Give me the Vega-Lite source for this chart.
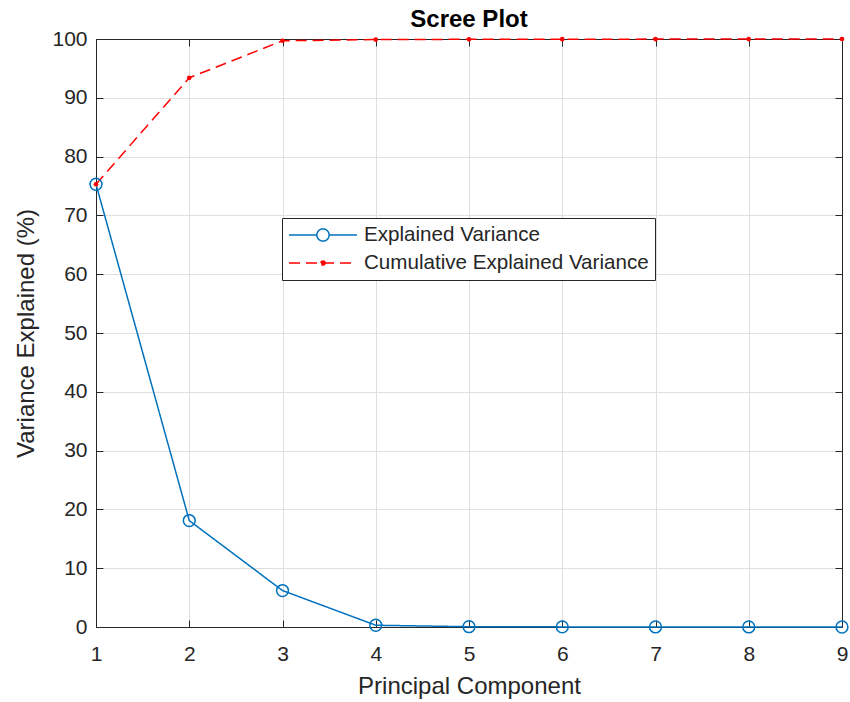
{
  "$schema": "https://vega.github.io/schema/vega-lite/v6.json",
  "width": 746,
  "height": 588,
  "autosize": {"type": "none"},
  "padding": {"left": 96, "top": 39, "right": 8, "bottom": 75},
  "background": "white",
  "title": {"text": "Scree Plot", "fontSize": 24, "fontWeight": "bold", "font": "Liberation Sans", "color": "#000000", "anchor": "middle", "frame": "group", "baseline": "alphabetic", "offset": 2, "dy": 25},
  "config": {
    "view": {"stroke": null},
    "axis": {"labelFont": "Liberation Sans", "titleFont": "Liberation Sans", "labelColor": "#262626", "titleColor": "#262626", "domainColor": "#262626", "tickColor": "#262626", "gridColor": "#dfdfdf", "gridOpacity": 1, "labelFontSize": 21, "titleFontSize": 24, "titleFontWeight": "normal", "tickSize": -7, "domainWidth": 1, "tickWidth": 1, "labelFlush": false}
  },
  "data": {"values": [
    {"pc": 1, "value": 75.3, "series": "Explained Variance"},
    {"pc": 2, "value": 18.1, "series": "Explained Variance"},
    {"pc": 3, "value": 6.2, "series": "Explained Variance"},
    {"pc": 4, "value": 0.3, "series": "Explained Variance"},
    {"pc": 5, "value": 0.05, "series": "Explained Variance"},
    {"pc": 6, "value": 0.02, "series": "Explained Variance"},
    {"pc": 7, "value": 0.01, "series": "Explained Variance"},
    {"pc": 8, "value": 0.01, "series": "Explained Variance"},
    {"pc": 9, "value": 0.0, "series": "Explained Variance"},
    {"pc": 1, "value": 75.3, "series": "Cumulative Explained Variance"},
    {"pc": 2, "value": 93.4, "series": "Cumulative Explained Variance"},
    {"pc": 3, "value": 99.7, "series": "Cumulative Explained Variance"},
    {"pc": 4, "value": 99.9, "series": "Cumulative Explained Variance"},
    {"pc": 5, "value": 99.95, "series": "Cumulative Explained Variance"},
    {"pc": 6, "value": 99.97, "series": "Cumulative Explained Variance"},
    {"pc": 7, "value": 99.98, "series": "Cumulative Explained Variance"},
    {"pc": 8, "value": 99.99, "series": "Cumulative Explained Variance"},
    {"pc": 9, "value": 100.0, "series": "Cumulative Explained Variance"}
  ]},
  "resolve": {"axis": {"x": "independent", "y": "independent"}},
  "layer": [
    {
      "mark": {"type": "line", "strokeWidth": 1.5},
      "encoding": {
        "x": {"field": "pc", "type": "quantitative", "scale": {"domain": [1, 9], "nice": false, "zero": false},
              "axis": {"orient": "bottom", "title": "Principal Component", "values": [1,2,3,4,5,6,7,8,9], "grid": true, "labelPadding": 23, "titlePadding": 10, "format": "d", "labelFlush": false}},
        "y": {"field": "value", "type": "quantitative", "scale": {"domain": [0, 100], "nice": false},
              "axis": {"orient": "left", "title": "Variance Explained (%)", "values": [0,10,20,30,40,50,60,70,80,90,100], "grid": true, "labelPadding": 16, "titlePadding": 13, "labelFlush": false}},
        "color": {"field": "series", "type": "nominal",
                  "scale": {"domain": ["Explained Variance", "Cumulative Explained Variance"], "range": ["#0072BD", "#FF0000"]},
                  "legend": {"orient": "none", "legendX": 186, "legendY": 179, "title": null, "labelFont": "Liberation Sans", "labelFontSize": 20.6, "labelColor": "#262626", "labelLimit": 0, "symbolSize": 4624, "symbolStrokeWidth": 1.5, "labelOffset": 6, "padding": 6, "rowPadding": 6, "clipHeight": 22, "strokeColor": "#262626", "fillColor": "#ffffff", "cornerRadius": 0,
                             "encode": {"symbols": {"update": {
                               "shape": {"signal": "datum.value == 'Explained Variance' ? 'M-1,0H-0.18M0.18,0H1M-0.18,0A0.18,0.18,0,1,1,0.18,0A0.18,0.18,0,1,1,-0.18,0Z' : 'M-1,0H1M-0.06,0A0.06,0.06,0,1,1,0.06,0A0.06,0.06,0,1,1,-0.06,0Z'"},
                               "fill": {"signal": "datum.value == 'Explained Variance' ? 'transparent' : '#FF0000'"},
                               "strokeDash": {"signal": "datum.value == 'Explained Variance' ? [1,0] : [10,6]"}
                             }}}}},
        "strokeDash": {"field": "series", "type": "nominal", "scale": {"domain": ["Explained Variance", "Cumulative Explained Variance"], "range": [[1, 0], [11, 6]]}, "legend": null}
      }
    },
    {
      "transform": [{"filter": "datum.series == 'Explained Variance'"}],
      "mark": {"type": "point", "shape": "circle", "filled": false, "color": "#0072BD", "size": 140, "strokeWidth": 1.5, "opacity": 1},
      "encoding": {
        "x": {"field": "pc", "type": "quantitative", "axis": {"orient": "top", "title": null, "labels": false, "grid": false, "minExtent": 0, "maxExtent": 0, "values": [1,2,3,4,5,6,7,8,9]}},
        "y": {"field": "value", "type": "quantitative", "axis": {"orient": "right", "title": null, "labels": false, "grid": false, "minExtent": 0, "maxExtent": 0, "values": [0,10,20,30,40,50,60,70,80,90,100]}}
      }
    },
    {
      "transform": [{"filter": "datum.series == 'Cumulative Explained Variance'"}],
      "mark": {"type": "point", "shape": "circle", "filled": true, "color": "#FF0000", "size": 22, "opacity": 1},
      "encoding": {
        "x": {"field": "pc", "type": "quantitative", "axis": null},
        "y": {"field": "value", "type": "quantitative", "axis": null}
      }
    }
  ]
}
